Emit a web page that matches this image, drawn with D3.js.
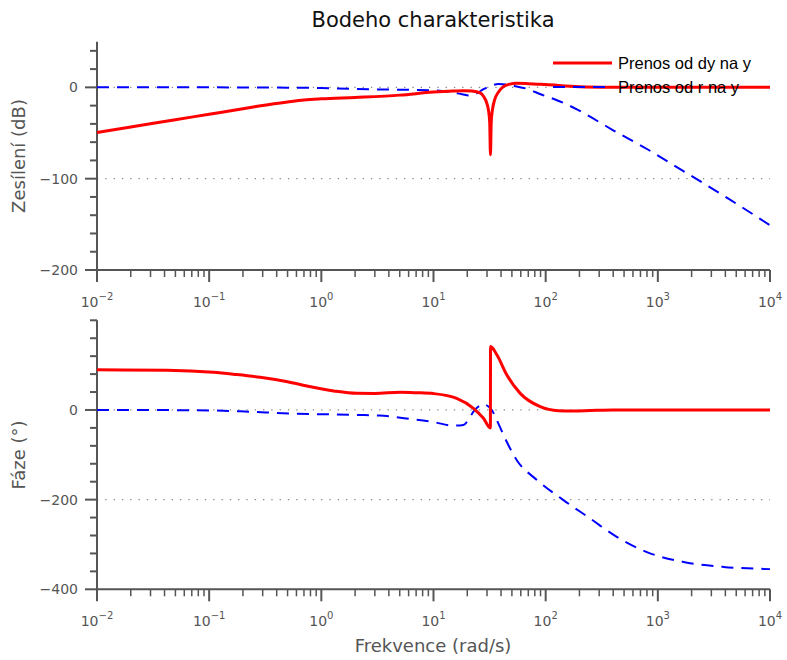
<!DOCTYPE html>
<html><head><meta charset="utf-8">
<script src="https://cdn.jsdelivr.net/npm/d3@7"></script>
<style>body{margin:0;background:#fff}svg{display:block}</style>
</head><body><svg id="c" width="787" height="660"></svg>
<script>
// ---- data ----
const seriesNames = ["Prenos od dy na y", "Prenos od r na y"];
const xTickExponents = [-2, -1, 0, 1, 2, 3, 4];
const magMajorTicks = [-200, -100, 0];
const phaseMajorTicks = [-400, -200, 0];
const magGridValues = [0, -100];
const phaseGridValues = [0, -200];

// magnitude, dy -> y (red, solid)
const wMagDy = [0.01, 0.02, 0.05, 0.1, 0.2, 0.3, 0.5, 0.7, 1, 2, 5, 10, 15, 18.5, 22, 26, 28, 30, 31, 31.7, 32.2, 32.7, 33.5, 35, 38, 42, 48, 55, 70, 100, 200, 400, 1000, 10000];
const magDy  = [-49.4, -43.4, -35.4, -29.4, -23.4, -19.8, -16, -13.8, -12.5, -11, -8.5, -5.2, -4, -3.6, -4, -6, -10, -18, -26, -38, -73.8, -38, -25, -14, -5, 0.8, 3.5, 4.4, 4, 3, 0.8, 0.2, 0, 0];
// magnitude, r -> y (blue, dashed)
const wMagR = [0.01, 0.1, 0.5, 1, 2, 5, 10, 14, 18, 21, 24, 27.9, 32, 38, 45, 52, 70, 89, 120, 150, 190, 300, 400, 800, 1580, 2550, 4400, 10000];
const magR  = [0, 0, -0.3, -0.8, -1.8, -2.6, -3.2, -5, -7.5, -9, -7, -2, 1.5, 3.6, 3, 1.5, -2, -7.3, -13, -18, -24, -38, -47, -67.5, -89.5, -105, -123, -151];
// phase, dy -> y (red)
const wPhDy = [0.01, 0.042, 0.109, 0.165, 0.285, 0.5, 0.744, 1.29, 2.07, 3, 5.05, 7, 10, 16.1, 22.7, 27.9, 32.15, 32.25, 36.7, 45.1, 59.3, 89.4, 130, 177, 250, 402, 1000, 10000];
const phDy  = [89.5, 88.6, 84, 79.7, 73, 63, 53.6, 42.5, 37.2, 37, 39.5, 38.5, 36.5, 26, 3.7, -18.6, -40, 141.5, 123, 78, 37, 7.4, -1.5, -2.2, -1.2, 0, 0, 0];
// phase, r -> y (blue)
const wPhR = [0.01, 0.068, 0.19, 0.53, 2.07, 3.3, 6.2, 10, 15.1, 18.5, 20.5, 22.7, 25, 27.9, 30, 33.1, 36, 42.1, 55.3, 83.4, 144, 249, 430, 798, 1695, 3855, 10000];
const phR  = [0, -0.5, -3, -8, -11, -12.5, -20, -27, -35, -33.5, -22, -3.7, 7, 13.4, 10, 0, -18, -56, -112, -156, -201, -242, -283, -317, -339, -350, -355];

// ---- layout ----
const svg = d3.select("#c");
const X0 = 97, X1 = 770;
const x = d3.scaleLog().domain([1e-2, 1e4]).range([X0, X1]);
const yMag = d3.scaleLinear().domain([-200, 50]).range([270, 41.7]);
const yPh = d3.scaleLinear().domain([-400, 200]).range([589.3, 320.3]);
const AX = "#555";
const TF = "DejaVu Sans, sans-serif";

svg.append("text").attr("x", 433).attr("y", 27).attr("text-anchor", "middle")
  .attr("font-family", TF).attr("font-size", 21).attr("fill", "#111").text("Bodeho charakteristika");

function panel(y, majors, minorStep, grid, yLabel, yLabelY) {
  const [d0, d1] = y.domain();
  const g = svg.append("g");
  // grid
  grid.forEach(v => g.append("line").attr("x1", X0).attr("x2", X1).attr("y1", y(v)).attr("y2", y(v))
    .attr("stroke", "#888").attr("stroke-width", 1.2).attr("stroke-dasharray", "1.3,7"));
  // y axis
  g.append("line").attr("x1", X0).attr("x2", X0).attr("y1", y(d1)).attr("y2", y(d0))
    .attr("stroke", AX).attr("stroke-width", 2);
  d3.range(d0, d1 + 0.001, minorStep).forEach(v => {
    const maj = majors.includes(v);
    g.append("line").attr("x1", X0 - (maj ? 12 : 7)).attr("x2", X0).attr("y1", y(v)).attr("y2", y(v))
      .attr("stroke", AX).attr("stroke-width", 2);
  });
  majors.forEach(v => g.append("text").attr("x", 78).attr("y", y(v)).attr("dy", "0.36em")
    .attr("text-anchor", "end").attr("font-family", TF).attr("font-size", 14).attr("fill", AX)
    .text(v < 0 ? "\u2212" + Math.abs(v) : String(v)));
  // x axis
  const ya = y(d0);
  g.append("line").attr("x1", X0).attr("x2", X1).attr("y1", ya).attr("y2", ya)
    .attr("stroke", AX).attr("stroke-width", 2);
  xTickExponents.forEach((e, i) => {
    const v = Math.pow(10, e);
    g.append("line").attr("x1", x(v)).attr("x2", x(v)).attr("y1", ya).attr("y2", ya + 12)
      .attr("stroke", AX).attr("stroke-width", 2);
    if (i < xTickExponents.length - 1) {
      for (let k = 2; k <= 9; k++) {
        g.append("line").attr("x1", x(k * v)).attr("x2", x(k * v)).attr("y1", ya).attr("y2", ya + 7)
          .attr("stroke", AX).attr("stroke-width", 1.5);
      }
    }
    const t = g.append("text").attr("x", x(v)).attr("y", ya + 37).attr("text-anchor", "middle")
      .attr("font-family", TF).attr("font-size", 14).attr("fill", AX);
    t.append("tspan").text("10");
    t.append("tspan").attr("dy", -7).attr("font-size", 10).text(e < 0 ? "\u2212" + Math.abs(e) : String(e));
  });
  // y label
  svg.append("text").attr("transform", `translate(25,${yLabelY}) rotate(-90)`).attr("text-anchor", "middle")
    .attr("font-family", TF).attr("font-size", 18).attr("fill", AX).text(yLabel);
  return g;
}

panel(yMag, magMajorTicks, 20, magGridValues, "Zesílení (dB)", 156);
panel(yPh, phaseMajorTicks, 40, phaseGridValues, "Fáze (°)", 455);

svg.append("text").attr("x", 433).attr("y", 652).attr("text-anchor", "middle")
  .attr("font-family", TF).attr("font-size", 18).attr("fill", AX).text("Frekvence (rad/s)");

function curve(ws, vs, y, color, width, dash) {
  const pts = ws.map((w, i) => [w, vs[i]]);
  const line = d3.line().x(d => x(d[0])).y(d => y(d[1])).curve(d3.curveMonotoneX);
  const p = svg.append("path").attr("d", line(pts)).attr("fill", "none").attr("stroke", color)
    .attr("stroke-width", width).attr("stroke-linejoin", "round");
  if (dash) p.attr("stroke-dasharray", dash);
}
curve(wMagR, magR, yMag, "#0000ff", 2, "12,8");
curve(wMagDy, magDy, yMag, "#ff0000", 3);
curve(wPhR, phR, yPh, "#0000ff", 2, "12,8");
curve(wPhDy, phDy, yPh, "#ff0000", 3);

// legend
const LF = "Liberation Sans, Arial, sans-serif";
const leg = svg.append("g");
[[63, "#ff0000", 3, null], [87, "#0000ff", 2, "12,8"]].forEach((s, i) => {
  const l = leg.append("line").attr("x1", 553).attr("x2", 612).attr("y1", s[0]).attr("y2", s[0])
    .attr("stroke", s[1]).attr("stroke-width", s[2]);
  if (s[3]) l.attr("stroke-dasharray", s[3]);
  leg.append("text").attr("x", 618).attr("y", s[0] + 6).attr("font-family", LF).attr("font-size", 16.5)
    .attr("fill", "#000").text(seriesNames[i]);
});
</script></body></html>
